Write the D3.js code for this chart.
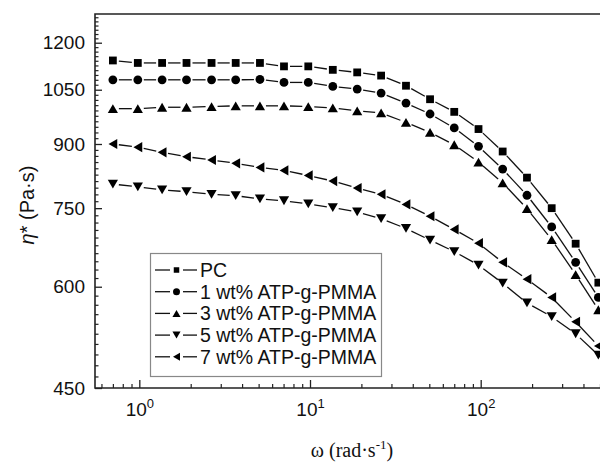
<!DOCTYPE html>
<html>
<head>
<meta charset="utf-8">
<script src="https://cdn.jsdelivr.net/npm/d3@7/dist/d3.min.js"></script>
<style>
  html, body { margin: 0; padding: 0; background: #fff; }
  svg { display: block; }
</style>
</head>
<body>
<svg id="chart" width="600" height="464"></svg>
<script>
// ---------------- data ----------------
const omega = [0.70, 0.98, 1.36, 1.89, 2.65, 3.67, 5.09, 7.04, 9.77, 13.6, 18.9, 26.1, 36.5, 50.5, 70.0, 97.1, 134.5, 186.7, 260.6, 360, 489];
const pc     = [1141, 1133, 1133, 1133, 1133, 1133, 1133, 1122, 1122, 1111, 1103, 1093, 1062, 1022, 986, 939, 881, 818, 750, 678, 607];
const wt1    = [1080, 1080, 1080, 1080, 1080, 1080, 1081, 1072, 1072, 1060, 1052, 1040, 1011, 980, 942, 894, 838, 778, 711, 643, 582];
const wt3    = [995, 995, 999, 999, 1001, 1003, 1003, 1003, 1001, 997, 989, 983, 957, 930, 898, 855, 806, 749, 686, 621, 562];
const wt5    = [803, 797, 790, 786, 780, 777, 770, 766, 759, 751, 742, 728, 708, 685, 663, 638, 606, 573, 551, 525, 494];
const wt7    = [900, 892, 879, 868, 860, 852, 842, 835, 823, 810, 794, 780, 758, 733, 706, 679, 643, 613, 582, 543, 507];
const seriesNames = ["PC", "1 wt% ATP-g-PMMA", "3 wt% ATP-g-PMMA", "5 wt% ATP-g-PMMA", "7 wt% ATP-g-PMMA"];
const seriesShapes = ["square", "circle", "up", "down", "left"];
const yTickValues = [450, 600, 750, 900, 1050, 1200];
const xTickValues = [1, 10, 100];
const xTickExponents = ["0", "1", "2"];

const seriesValues = [pc, wt1, wt3, wt5, wt7];

// ---------------- layout ----------------
const svg = d3.select("#chart");
const L = 95, R = 600, T = 14, B = 388;
const x = d3.scaleLog().domain([0.55, 500]).range([L, R]);
const y = d3.scaleLog().domain([450, 1302]).range([B, T]);
const SANS = "'Liberation Sans', Arial, sans-serif";
const SERIF = "'Liberation Serif', 'Times New Roman', serif";

// marker path generator (bbox-centred)
function markerPath(shape, s) {
  const p = d3.path();
  const h = s / 2;
  if (shape === "square") {
    p.rect(-h, -h, s, s);
  } else if (shape === "circle") {
    p.arc(0, 0, h, 0, 2 * Math.PI);
  } else if (shape === "up") {
    const w = s * 0.58, hh = s * 0.5;
    p.moveTo(0, -hh); p.lineTo(w, hh); p.lineTo(-w, hh); p.closePath();
  } else if (shape === "down") {
    const w = s * 0.58, hh = s * 0.5;
    p.moveTo(0, hh); p.lineTo(w, -hh); p.lineTo(-w, -hh); p.closePath();
  } else if (shape === "left") {
    const w = s * 0.5, hh = s * 0.58;
    p.moveTo(-w, 0); p.lineTo(w, -hh); p.lineTo(w, hh); p.closePath();
  }
  return p.toString();
}
const markerSize = { square: 7.8, circle: 8.8, up: 8.8, down: 8.8, left: 8.8 };

// ---------------- axes ----------------
const yMinor = d3.range(465, 1302, 15).filter(v => yTickValues.indexOf(v) < 0);
const xMinor = [];
[0.1, 1, 10, 100].forEach(dec => {
  for (let m = 2; m <= 9; m++) {
    const v = dec * m;
    if (v >= 0.55 && v <= 500) xMinor.push(v);
  }
});

const gAxes = svg.append("g");

gAxes.append("g")
  .attr("transform", `translate(${L},0)`)
  .call(d3.axisLeft(y).tickValues(yMinor).tickSizeInner(-3.5).tickSizeOuter(0).tickFormat(""))
  .call(g => g.select(".domain").remove())
  .call(g => g.selectAll("line").attr("stroke", "#222").attr("stroke-width", 1.2));

gAxes.append("g")
  .attr("transform", `translate(${L},0)`)
  .call(d3.axisLeft(y).tickValues(yTickValues).tickSizeInner(-7).tickSizeOuter(0).tickPadding(10).tickFormat(d3.format("d")))
  .call(g => g.select(".domain").remove())
  .call(g => g.selectAll("line").attr("stroke", "#222").attr("stroke-width", 1.3))
  .call(g => g.selectAll("text").attr("font-family", SANS).attr("font-size", 19).attr("fill", "#111"));

gAxes.append("g")
  .attr("transform", `translate(0,${B})`)
  .call(d3.axisBottom(x).tickValues(xMinor).tickSizeInner(-4).tickSizeOuter(0).tickFormat(""))
  .call(g => g.select(".domain").remove())
  .call(g => g.selectAll("line").attr("stroke", "#222").attr("stroke-width", 1.2));

gAxes.append("g")
  .attr("transform", `translate(0,${B})`)
  .call(d3.axisBottom(x).tickValues(xTickValues).tickSizeInner(-8).tickSizeOuter(0).tickPadding(15).tickFormat(""))
  .call(g => g.select(".domain").remove())
  .call(g => g.selectAll("line").attr("stroke", "#222").attr("stroke-width", 1.3))
  .call(g => g.selectAll("text")
    .attr("font-family", SANS).attr("font-size", 19).attr("fill", "#111")
    .each(function(d, i) {
      const t = d3.select(this);
      t.append("tspan").text("10");
      t.append("tspan").attr("dy", -8).attr("font-size", 13).text(xTickExponents[i]);
    }));

// frame lines (top, left, bottom)
gAxes.append("path")
  .attr("d", `M${R},${T}H${L}V${B}H${R}`)
  .attr("fill", "none").attr("stroke", "#222").attr("stroke-width", 1.6);

// ---------------- series ----------------
const gap = 6;
const gSeries = svg.append("g");
seriesValues.forEach((vals, si) => {
  const pts = vals.map((v, i) => [x(omega[i]), y(v)]);
  const g = gSeries.append("g");
  for (let i = 0; i < pts.length - 1; i++) {
    const [x0, y0] = pts[i], [x1, y1] = pts[i + 1];
    const dx = x1 - x0, dy = y1 - y0, len = Math.hypot(dx, dy);
    if (len <= 2 * gap) continue;
    const ux = dx / len, uy = dy / len;
    g.append("line")
      .attr("x1", x0 + ux * gap).attr("y1", y0 + uy * gap)
      .attr("x2", x1 - ux * gap).attr("y2", y1 - uy * gap)
      .attr("stroke", "#111").attr("stroke-width", 1.3);
  }
  const shape = seriesShapes[si];
  g.selectAll("path.m").data(pts).join("path")
    .attr("class", "m")
    .attr("transform", d => `translate(${d[0]},${d[1]})`)
    .attr("d", markerPath(shape, markerSize[shape]))
    .attr("fill", "#000");
});

// ---------------- legend ----------------
const leg = svg.append("g");
leg.append("rect")
  .attr("x", 150.5).attr("y", 253.5).attr("width", 231).attr("height", 123)
  .attr("fill", "#fff").attr("stroke", "#888").attr("stroke-width", 1.2);
seriesNames.forEach((name, i) => {
  const cy = 270 + i * 21.7;
  const row = leg.append("g");
  row.append("line").attr("x1", 155).attr("x2", 170).attr("y1", cy).attr("y2", cy)
    .attr("stroke", "#111").attr("stroke-width", 1.3);
  row.append("line").attr("x1", 183).attr("x2", 197).attr("y1", cy).attr("y2", cy)
    .attr("stroke", "#111").attr("stroke-width", 1.3);
  const shape = seriesShapes[i];
  row.append("path")
    .attr("transform", `translate(176.5,${cy})`)
    .attr("d", markerPath(shape, shape === "square" ? 5.5 : 7))
    .attr("fill", "#000");
  row.append("text")
    .attr("x", 200).attr("y", cy + 6.8)
    .attr("font-family", SANS).attr("font-size", 19.5).attr("fill", "#111")
    .text(name);
});

// ---------------- axis titles ----------------
const yt = svg.append("text")
  .attr("transform", "translate(34,205) rotate(-90)")
  .attr("text-anchor", "middle")
  .attr("font-family", SANS).attr("font-size", 20).attr("fill", "#111");
yt.append("tspan").attr("font-style", "italic").text("η");
yt.append("tspan").text("* (Pa·s)");

const xt = svg.append("text")
  .attr("x", 352).attr("y", 457)
  .attr("text-anchor", "middle")
  .attr("font-family", SERIF).attr("font-size", 20).attr("fill", "#111");
xt.append("tspan").text("ω (rad·s");
xt.append("tspan").attr("dy", -8).attr("font-size", 13).text("-1");
xt.append("tspan").attr("dy", 8).text(")");
</script>
</body>
</html>
